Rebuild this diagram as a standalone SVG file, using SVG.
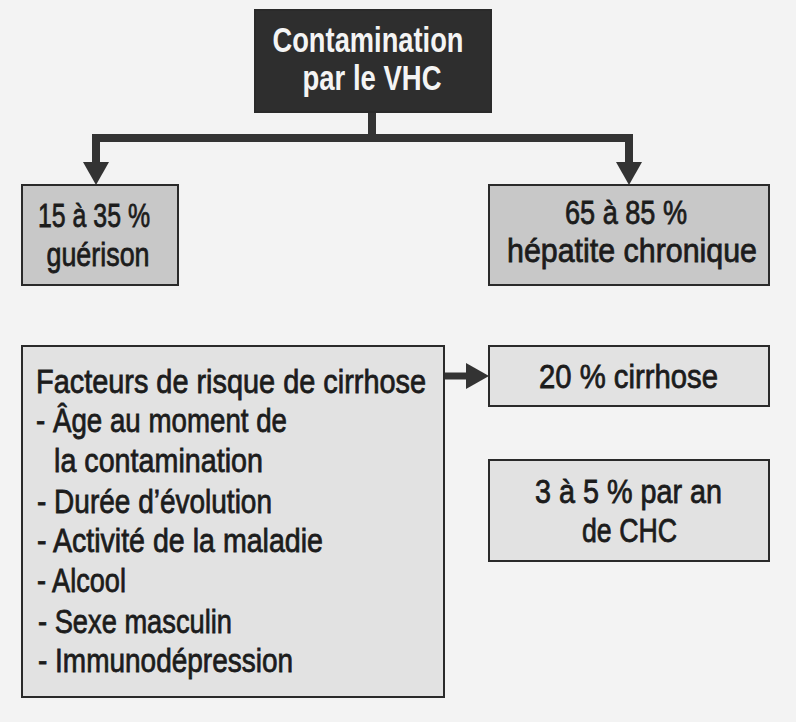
<svg xmlns="http://www.w3.org/2000/svg" width="796" height="722" viewBox="0 0 796 722">
<style>
.t{font-family:"Liberation Sans",Arial,sans-serif;font-size:34px;fill:#1c1c1c;stroke:#1c1c1c;stroke-width:0.8}
.h{font-family:"Liberation Sans",Arial,sans-serif;font-size:35px;font-weight:bold;fill:#f4f4f4}
.box{stroke:#2a2a2a;stroke-width:2}
.dark{fill:#2e2e2e}
.mid{fill:#c8c8c8}
.light{fill:#e2e2e2}
.conn{fill:none;stroke:#333;stroke-width:8;stroke-linejoin:miter}
</style>
<defs>
<marker id="ah" markerUnits="userSpaceOnUse" viewBox="0 0 23 26" markerWidth="23" markerHeight="26" refX="0" refY="13" orient="auto">
<path d="M0,0 L23,13 L0,26 z" fill="#333"/>
</marker>
</defs>
<rect width="796" height="722" fill="#f3f3f3"/>
<g id="connectors">
<path class="conn" d="M372,112 V138"/>
<path class="conn" d="M376,138 H96 V162" marker-end="url(#ah)"/>
<path class="conn" d="M368,138 H629 V162" marker-end="url(#ah)"/>
<path class="conn" style="stroke-width:7" d="M444,376 H466" marker-end="url(#ah)"/>
</g>
<g id="contamination">
<rect class="box dark" x="255" y="10" width="236" height="102"/>
<text class="h" x="368" y="52" text-anchor="middle" textLength="191" lengthAdjust="spacingAndGlyphs">Contamination</text>
<text class="h" x="372" y="90" text-anchor="middle" textLength="139" lengthAdjust="spacingAndGlyphs">par le VHC</text>
</g>
<g id="guerison">
<rect class="box mid" x="22" y="185" width="156" height="100"/>
<text class="t" x="94" y="227" text-anchor="middle" textLength="112" lengthAdjust="spacingAndGlyphs">15 à 35 %</text>
<text class="t" x="98" y="266" text-anchor="middle" textLength="103" lengthAdjust="spacingAndGlyphs">guérison</text>
</g>
<g id="hepatite">
<rect class="box mid" x="489" y="185" width="280" height="100"/>
<text class="t" x="626" y="224" text-anchor="middle" textLength="122" lengthAdjust="spacingAndGlyphs">65 à 85 %</text>
<text class="t" x="632" y="262" text-anchor="middle" textLength="250" lengthAdjust="spacingAndGlyphs">hépatite chronique</text>
</g>
<g id="facteurs">
<rect class="box light" x="22" y="346" width="422" height="351"/>
<text class="t" x="36" y="393" textLength="390" lengthAdjust="spacingAndGlyphs">Facteurs de risque de cirrhose</text>
<text class="t" x="36" y="432" textLength="251" lengthAdjust="spacingAndGlyphs">- Âge au moment de</text>
<text class="t" x="54" y="472" textLength="209" lengthAdjust="spacingAndGlyphs">la contamination</text>
<text class="t" x="37" y="513" textLength="235" lengthAdjust="spacingAndGlyphs">- Durée d’évolution</text>
<text class="t" x="37" y="552" textLength="286" lengthAdjust="spacingAndGlyphs">- Activité de la maladie</text>
<text class="t" x="37" y="592" textLength="89" lengthAdjust="spacingAndGlyphs">- Alcool</text>
<text class="t" x="38" y="633" textLength="194" lengthAdjust="spacingAndGlyphs">- Sexe masculin</text>
<text class="t" x="38" y="672" textLength="255" lengthAdjust="spacingAndGlyphs">- Immunodépression</text>
</g>
<g id="cirrhose">
<rect class="box light" x="489" y="346" width="280" height="60"/>
<text class="t" x="628.5" y="388" text-anchor="middle" textLength="179" lengthAdjust="spacingAndGlyphs">20 % cirrhose</text>
</g>
<g id="chc">
<rect class="box light" x="489" y="460" width="280" height="101"/>
<text class="t" x="628.5" y="503" text-anchor="middle" textLength="187" lengthAdjust="spacingAndGlyphs">3 à 5 % par an</text>
<text class="t" x="629.5" y="542" text-anchor="middle" textLength="95" lengthAdjust="spacingAndGlyphs">de CHC</text>
</g>
</svg>
